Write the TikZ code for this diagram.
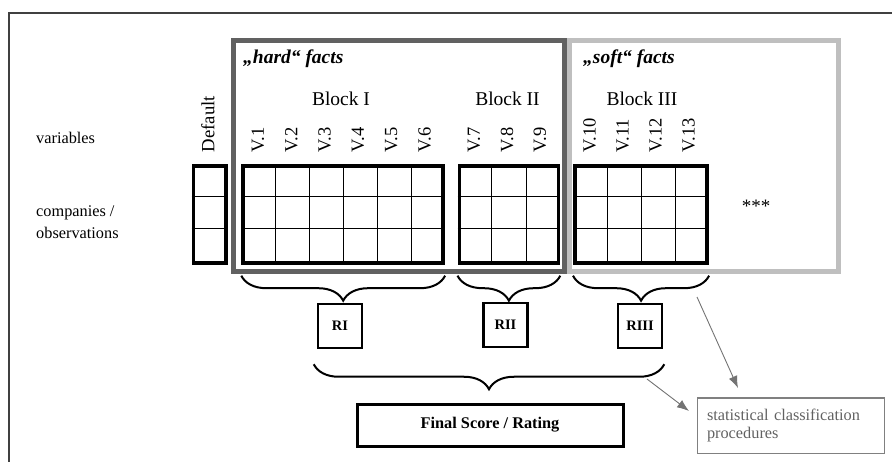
\documentclass[tikz,border=0pt]{standalone}
\usepackage{fontspec}
\setmainfont{Liberation Serif}
\usetikzlibrary{calc,decorations.pathreplacing,arrows.meta}

\begin{document}
\begin{tikzpicture}[x=1pt,y=-1pt,
	blk/.style={draw,line width=3.8pt,inner sep=0pt,minimum height=96.6pt,anchor=north west},
	grd/.style={line width=0.8pt},
	brc/.style={decorate,decoration={brace,mirror,amplitude=25pt},line width=2pt},
	rbox/.style={draw,line width=2.5pt,minimum size=44pt,inner sep=0pt,font=\fontsize{14.5}{16}\selectfont\bfseries},
	vlab/.style={rotate=90,anchor=west,inner sep=0pt,font=\fontsize{18.5}{20}\selectfont},
	blab/.style={anchor=base,inner sep=0pt,font=\fontsize{19.5}{22}\selectfont},
	flab/.style={anchor=base west,inner sep=0pt,font=\fontsize{19.5}{22}\selectfont\bfseries\itshape},
	side/.style={anchor=base west,inner sep=0pt,align=left,font=\fontsize{16.3}{21.8}\selectfont},
	arr/.style={-{Latex[length=12pt,width=9pt]},line width=0.9pt,black!55}]
	\useasboundingbox (0,0) rectangle (892,462);
	\draw[line width=1.3pt,black!75] (9,462) -- (9,13) -- (892,13);
	% frames
	\draw[line width=5pt,black!25] (569,41) rectangle (838,271.5);
	\draw[line width=5pt,black!62] (233,41) rectangle (564.5,272);
	\node[flab] (hard) at (243,64) {„hard“ facts};
	\node[flab] (soft) at (583,64) {„soft“ facts};
	% left texts
	\node[side] (var) at (36,143.5) {variables};
	\node[side] (obs) at (36,238.5) {companies /\\observations};
	% blocks
	\node[blk,minimum width=32.4pt] (D) at (191.6,164.3) {};
	\node[blk,minimum width=200pt] (B1) at (241.3,164.3) {};
	\node[blk,minimum width=99pt] (B2) at (457.5,164.3) {};
	\node[blk,minimum width=132.3pt] (B3) at (573,164.3) {};
	\foreach \b/\n in {D/1,B1/6,B2/3,B3/4}{
		\foreach \j in {1,2}
			\draw[grd] ([yshift=-\j*32.2pt]\b.north west) -- ([yshift=-\j*32.2pt]\b.north east);
		\ifnum\n>1
		\foreach \i in {2,...,\n}
			\draw[grd] ($(\b.north west)!{(\i-1)/\n}!(\b.north east)$) -- ($(\b.south west)!{(\i-1)/\n}!(\b.south east)$);
		\fi
	}
	\node[vlab,font=\fontsize{18.7}{20}\selectfont] (def) at (207.8,152.5) {Default};
	\foreach \i in {1,...,6}
		\node[vlab] (v\i) at (241.3+33.33*\i-16.67,152.5) {V.\i};
	\foreach \i [count=\k] in {7,8,9}
		\node[vlab] (v\i) at (457.5+33*\k-16.5,152.5) {V.\i};
	\foreach \i [count=\k] in {10,...,13}
		\node[vlab] (v\i) at (573+33.07*\k-16.54,152.5) {V.\i};
	\node[blab] (l1) at (341,106) {Block I};
	\node[blab] (l2) at (507.5,106) {Block II};
	\node[blab] (l3) at (642,106) {Block III};
	\node[inner sep=0pt,font=\fontsize{19}{20}\selectfont] (etc) at (756,206) {***};
	% braces and ratings
	\foreach \b in {B1,B2,B3}
		\draw[brc] ([yshift=-11pt]\b.south west) -- ([yshift=-11pt]\b.south east);
	\node[rbox] (R1) at (340,326) {RI};
	\node[rbox] (R2) at (505.5,325) {RII};
	\node[rbox] (R3) at (640,326) {RIII};
	\draw[brc] ([xshift=-3pt,yshift=-15pt]R1.south west) -- ([xshift=1pt,yshift=-15pt]R3.south east);
	\node[draw,line width=3pt,minimum width=266pt,minimum height=42pt,font=\fontsize{16.3}{18}\selectfont\bfseries] (F) at (490,425) {Final Score / Rating};
	\node[draw=black!50,line width=1pt,minimum width=187pt,minimum height=55pt,text width=167pt,align=left,text=black!62,font=\fontsize{16.3}{18.5}\selectfont] (S) at (790.5,425.5) {statistical classification\\procedures};
	\coordinate (a1) at (697,297);
	\coordinate (a2) at (738,388);
	\coordinate (a3) at (647,379);
	\coordinate (a4) at (689,411);
	\draw[arr] (a1) -- (a2);
	\draw[arr] (a3) -- (a4);
\end{tikzpicture}
\end{document}
